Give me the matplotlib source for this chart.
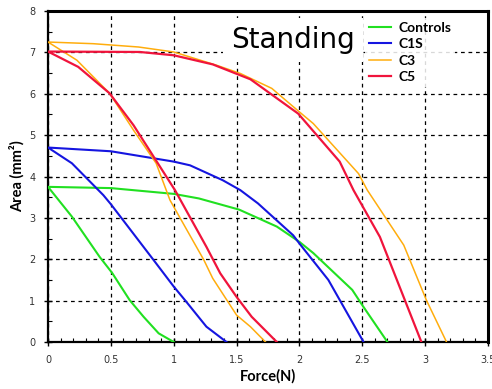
import matplotlib.pyplot as plt
from matplotlib.ticker import MultipleLocator

# ---- data: each group has an inner (fast-falling) and outer branch ----
ctrl_in_x = [0, 0.19, 0.41, 0.51, 0.65, 0.76, 0.88, 1.0]
ctrl_in_y = [3.75, 3.03, 2.06, 1.67, 1.01, 0.61, 0.21, 0]
ctrl_out_x = [0, 0.5, 1.0, 1.2, 1.52, 1.82, 2.0, 2.11, 2.42, 2.5, 2.7]
ctrl_out_y = [3.75, 3.72, 3.58, 3.47, 3.2, 2.79, 2.42, 2.15, 1.26, 0.89, 0]

c1s_in_x = [0, 0.19, 0.44, 0.5, 0.84, 1.0, 1.09, 1.26, 1.42]
c1s_in_y = [4.7, 4.32, 3.55, 3.33, 1.98, 1.34, 1.01, 0.37, 0]
c1s_out_x = [0, 0.5, 1.0, 1.13, 1.39, 1.53, 1.67, 1.95, 2.0, 2.23, 2.51]
c1s_out_y = [4.7, 4.61, 4.36, 4.27, 3.91, 3.67, 3.35, 2.58, 2.38, 1.5, 0]

c3_in_x = [0, 0.23, 0.49, 0.68, 0.86, 0.97, 1.24, 1.31, 1.5, 1.61, 1.73]
c3_in_y = [7.25, 6.81, 6.01, 5.12, 4.32, 3.43, 1.98, 1.54, 0.65, 0.37, 0]
c3_out_x = [0, 0.36, 0.72, 1.0, 1.34, 1.53, 1.78, 2.0, 2.11, 2.47, 2.54, 2.83, 3.01, 3.17]
c3_out_y = [7.25, 7.21, 7.13, 7.01, 6.69, 6.49, 6.13, 5.56, 5.28, 4.07, 3.67, 2.34, 1.01, 0]

c5_in_x = [0, 0.24, 0.49, 0.68, 1.01, 1.26, 1.37, 1.5, 1.62, 1.82]
c5_in_y = [7.02, 6.65, 6.01, 5.24, 3.67, 2.3, 1.66, 1.09, 0.61, 0]
c5_out_x = [0, 0.73, 1.0, 1.31, 1.61, 1.99, 2.32, 2.43, 2.64, 2.97]
c5_out_y = [7.02, 7.01, 6.93, 6.71, 6.35, 5.52, 4.36, 3.67, 2.54, 0]

names = ["Controls", "C1S", "C3", "C5"]
colors = ["#21e021", "#1515e0", "#ffad0d", "#f0143c"]
widths = [1.5, 1.5, 1.1, 1.6]
curves = [
    (ctrl_in_x, ctrl_in_y, ctrl_out_x, ctrl_out_y),
    (c1s_in_x, c1s_in_y, c1s_out_x, c1s_out_y),
    (c3_in_x, c3_in_y, c3_out_x, c3_out_y),
    (c5_in_x, c5_in_y, c5_out_x, c5_out_y),
]

fig = plt.figure(figsize=(4.92, 3.89), dpi=100)
ax = fig.add_axes([0.0976, 0.1208, 0.8943, 0.8509])

for name, col, lw, (xi, yi, xo, yo) in zip(names, colors, widths, curves):
    # inner branch reversed, then outer branch -> one continuous loop
    xs = list(xi[::-1]) + list(xo[1:])
    ys = list(yi[::-1]) + list(yo[1:])
    ax.plot(xs, ys, color=col, lw=lw, label=name, zorder=3)

ax.set_xlim(0, 3.5)
ax.set_ylim(0, 8)
ax.xaxis.set_major_locator(MultipleLocator(0.5))
ax.xaxis.set_minor_locator(MultipleLocator(0.1))
ax.yaxis.set_major_locator(MultipleLocator(1))
ax.yaxis.set_minor_locator(MultipleLocator(0.5))
ax.set_xticks([0, 0.5, 1, 1.5, 2, 2.5, 3, 3.5], ["0", "0.5", "1", "1.5", "2", "2.5", "3", "3.5"])
ax.grid(True, which="major", color="black", ls=(0, (3, 3)), lw=0.9, zorder=1)
ax.set_axisbelow(True)

ax.tick_params(which="major", direction="inout", length=6, width=1,
               labelsize=7, labelcolor="#333333", pad=6)
ax.tick_params(which="minor", direction="in", length=3, width=0.8)
for s in ax.spines.values():
    s.set_linewidth(1.6)
ax.spines["top"].set_linewidth(2.2)
ax.spines["right"].set_linewidth(2.2)

ax.set_xlabel("Force(N)", family="Lato", fontweight="bold", fontsize=10.5, labelpad=3)
ax.set_ylabel("Area (mm²)", family="Lato", fontweight="bold", fontsize=10.5, labelpad=3)

ax.text(1.95, 7.3, "Standing", fontsize=20, ha="center", va="center", zorder=2,
        bbox=dict(facecolor="white", edgecolor="none", pad=6))

leg = ax.legend(loc="upper left", bbox_to_anchor=(0.72, 0.98), frameon=True,
                prop={"family": "Lato", "weight": "bold", "size": 10},
                handlelength=1.6, handletextpad=0.5, labelspacing=0.32,
                borderaxespad=0.0, borderpad=0.3, fancybox=False)
leg.get_frame().set_edgecolor("none")
leg.get_frame().set_facecolor("white")
leg.get_frame().set_alpha(0.85)

fig.savefig("out.png", dpi=100)
